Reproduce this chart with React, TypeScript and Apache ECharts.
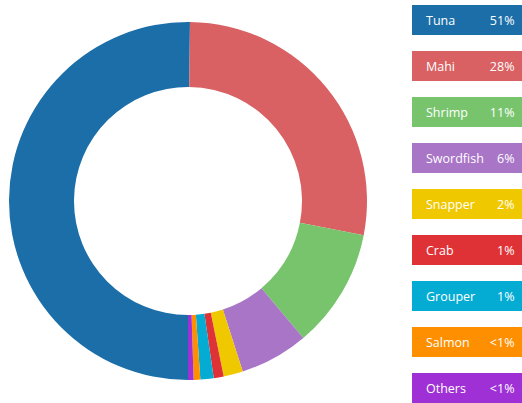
import React, { useEffect, useRef } from "react";
import * as echarts from "echarts";

const names = ["Tuna", "Mahi", "Shrimp", "Swordfish", "Snapper", "Crab", "Grouper", "Salmon", "Others"];
const values = [50.2, 27.9, 10.8, 6.2, 1.75, 0.9, 1.2, 0.6, 0.5];
const percentLabels = ["51%", "28%", "11%", "6%", "2%", "1%", "1%", "<1%", "<1%"];
const colors = ["#1b6ea8", "#d96163", "#77c46c", "#a975c7", "#f0c800", "#df3236", "#04acd4", "#fd8f00", "#9e30d5"];

export default function App() {
  const ref = useRef<HTMLDivElement>(null);
  useEffect(() => {
    if (!ref.current) return;
    const chart = echarts.init(ref.current, null, { renderer: "svg" });
    const boxX = 412;
    const boxW = 110;
    const boxH = 30;
    const top0 = 5;
    const step = 46;
    const legend: any[] = [];
    names.forEach((n, i) => {
      const y = top0 + i * step;
      legend.push({
        type: "rect",
        shape: { x: boxX, y, width: boxW, height: boxH },
        style: { fill: colors[i] },
        silent: true,
      });
      legend.push({
        type: "text",
        x: boxX + 14,
        y: y + boxH / 2,
        style: {
          text: n,
          fill: "#ffffff",
          font: "12.5px 'Open Sans', sans-serif",
          textAlign: "left",
          textVerticalAlign: "middle",
        },
        silent: true,
      });
      legend.push({
        type: "text",
        x: boxX + boxW - 7.5,
        y: y + boxH / 2,
        style: {
          text: percentLabels[i],
          fill: "#ffffff",
          font: "12.5px 'Open Sans', sans-serif",
          textAlign: "right",
          textVerticalAlign: "middle",
        },
        silent: true,
      });
    });
    chart.setOption({
      animation: false,
      color: colors,
      series: [
        {
          type: "pie",
          center: [188, 201],
          radius: [114, 179],
          startAngle: 270,
          clockwise: true,
          avoidLabelOverlap: false,
          label: { show: false },
          labelLine: { show: false },
          emphasis: { disabled: true },
          silent: true,
          itemStyle: { borderWidth: 0 },
          data: names.map((n, i) => ({ name: n, value: values[i] })),
        },
      ],
      graphic: legend,
    });
    return () => chart.dispose();
  }, []);
  return (
    <div
      ref={ref}
      style={{ position: "absolute", left: 0, top: 0, width: 522, height: 403, background: "#ffffff" }}
    />
  );
}
